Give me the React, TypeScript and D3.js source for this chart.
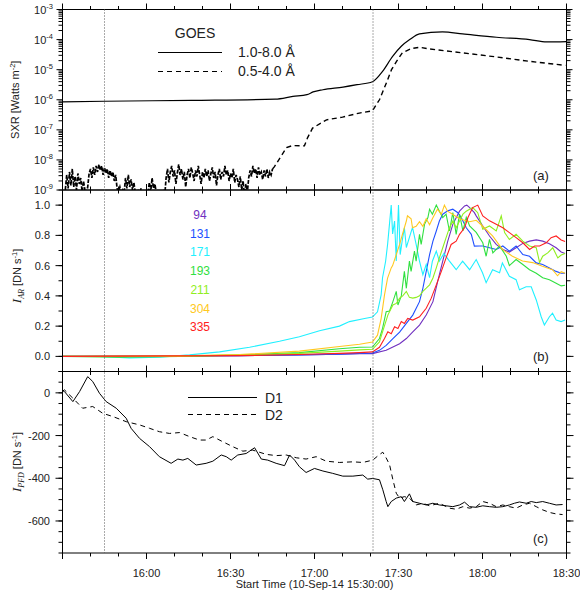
import React from 'react';
import * as d3 from 'd3';

const FONT = '"Liberation Sans", Arial, Helvetica, sans-serif';
const SERIF = '"Liberation Serif", "Times New Roman", serif';

// ---------- time axis (minutes after 15:30) ----------
const xTickMinutes = [30, 60, 90, 120, 150, 180];
const xTickLabels = ['16:00', '16:30', '17:00', '17:30', '18:00', '18:30'];
const xMinorMinutes = [0, 10, 20, 30, 40, 50, 60, 70, 80, 90, 100, 110, 120, 130, 140, 150, 160, 170, 180];
const markerMinutes = [15, 110.9];

// ---------- panel (a) GOES (log10 flux) ----------
const goesHiMin = [0, 15, 46, 76, 82.3, 87.3, 89.5, 93, 100.2, 105.2, 110.7, 114.3, 117.9, 121, 124, 127.5, 135.7, 142.9, 155, 166.8, 172.9, 180];
const goesHiExp = [-6.07, -6.05, -6.02, -5.98, -5.89, -5.83, -5.74, -5.667, -5.58, -5.5, -5.4, -5.057, -4.557, -4.223, -4.0, -3.81, -3.743, -3.81, -3.923, -4.0, -4.077, -4.067];

const goesLoNoiseStep = 0.5;
const goesLoNoiseExp = [
  -9.05, -9.1, -9.0,
  -8.5, -8.95, -8.4, -8.85, -8.3, -8.9, -8.55, -9.0, -8.45, -8.8, -8.6, -9.05, -8.7, -9.0,
  -9.1, -8.9,
  -8.45, -8.3, -8.6, -8.25, -8.5, -8.2, -8.4, -8.15, -8.35, -8.2, -8.5, -8.25, -8.45, -8.3, -8.6, -8.35, -8.55, -8.4, -8.7, -8.5,
  -8.95, -9.05, -8.9, -9.1, -9.0, -9.1,
  -8.6, -8.95, -8.5, -8.9, -8.65, -9.0, -8.75,
  -9.1, -9.2, -9.05, -9.2, -8.95, -9.15, -9.2, -9.1, -9.2, -9.15,
  -8.75, -9.05, -8.6, -8.95, -8.8, -9.1,
  -9.2, -9.1, -9.2, -9.15, -9.05, -9.2,
  -8.6, -8.3, -8.75, -8.4, -8.2, -8.55, -8.35, -8.8, -8.45, -8.15,
  -8.5, -8.3, -8.65, -8.4, -8.9, -8.5, -8.3, -8.6, -8.25, -8.45,
  -8.7, -8.35, -8.55, -8.2, -8.5, -8.8, -8.4, -8.6, -8.3, -8.55,
  -8.35, -8.7, -8.45, -8.25, -8.6, -8.4, -8.85, -8.5, -8.3, -8.65,
  -8.4, -8.55, -8.2, -8.5, -8.35, -8.7, -8.45, -8.6, -8.3, -8.75,
  -8.5, -8.65, -8.9, -8.55, -9.0, -8.7, -9.2, -8.8, -9.1, -8.6,
  -8.35, -8.55, -8.2, -8.45, -8.3, -8.6, -8.25, -8.5, -8.4, -8.65,
  -8.35, -8.55, -8.3, -8.6, -8.4, -8.5, -8.3,
];
const goesLoMin = [75, 75.7, 80, 82.1, 86.4, 87.5, 89.3, 94.3, 100, 106, 110.7, 113.2, 115.7, 117.5, 119.3, 121.4, 124.6, 127.5, 131, 142.9, 155, 166.8, 179.6];
const goesLoExp = [-8.3, -8.223, -7.59, -7.523, -7.533, -7.267, -6.943, -6.667, -6.577, -6.443, -6.367, -6.0, -5.433, -5.0, -4.723, -4.433, -4.3, -4.257, -4.31, -4.443, -4.577, -4.723, -4.857];

const yTicksA = [-9, -8, -7, -6, -5, -4, -3];

// ---------- panel (b) AIA normalized intensity ----------
const chNames = ['94', '131', '171', '193', '211', '304', '335'];
const chColors = ['#7030c0', '#2050ff', '#20f0ff', '#30e040', '#90ee20', '#ffc820', '#ff2020'];

const t94 = [0, 63.2, 84.6, 98.9, 106.1, 110.7, 115.6, 120.4, 122.8, 125.1, 127.5, 129.9, 132.3, 134, 135.8, 137.6, 139.4, 141.8, 143.6, 144.4, 145.4, 147.1, 147.75, 150.1, 152.5, 154.9, 157.25, 159.6, 162, 164.4, 166.8, 169.2, 171.5, 173.9, 176.3, 178.1, 179.5];
const v94 = [0, 0.005, 0.01, 0.015, 0.018, 0.018, 0.04, 0.084, 0.118, 0.162, 0.207, 0.273, 0.362, 0.496, 0.629, 0.762, 0.873, 0.96, 0.995, 1.0, 0.984, 0.95, 0.929, 0.862, 0.796, 0.74, 0.707, 0.69, 0.718, 0.747, 0.762, 0.77, 0.762, 0.745, 0.718, 0.69, 0.68];

const t131 = [0, 63.2, 84.6, 98.9, 106.1, 110.7, 113.2, 115.6, 118, 120.4, 122.8, 125.1, 127.5, 128.7, 129.9, 131.1, 132.3, 133.5, 134.6, 135.8, 137.6, 139.4, 141.2, 142.4, 144.2, 146, 147.1, 148.9, 150.1, 152.5, 154.9, 157.25, 159.6, 162, 164.4, 166.8, 169.2, 171.5, 173.9, 176.3, 178.1, 179.5];
const v131 = [0, 0.005, 0.01, 0.015, 0.02, 0.022, 0.04, 0.073, 0.118, 0.16, 0.218, 0.273, 0.362, 0.45, 0.562, 0.673, 0.762, 0.829, 0.895, 0.94, 0.962, 0.973, 0.95, 0.918, 0.85, 0.807, 0.729, 0.73, 0.73, 0.718, 0.707, 0.73, 0.696, 0.73, 0.673, 0.662, 0.618, 0.607, 0.584, 0.562, 0.55, 0.55];

const t171 = [0, 13.2, 23.9, 34.6, 45.4, 56.1, 66.8, 77.5, 84.6, 91.8, 98.9, 102.5, 107.9, 110.7, 112.5, 113.8, 114.3, 115.4, 116.1, 117.4, 117.9, 118.6, 119.2, 120, 120.6, 121.3, 122.1, 122.8, 123.9, 125, 126.3, 127.5, 128.7, 129.9, 131.1, 132.1, 133.5, 134.6, 136.2, 138.2, 140.6, 142.9, 145.4, 147.75, 150, 151.3, 153.6, 156.1, 157.1, 159.6, 162, 163.2, 165.6, 167.4, 169.2, 170.96, 172.1, 173.9, 175, 176.3, 178.1, 179.5];
const v171 = [0, 0, -0.01, -0.005, 0.01, 0.03, 0.06, 0.1, 0.13, 0.17, 0.2, 0.23, 0.25, 0.26, 0.295, 0.407, 0.52, 0.629, 0.74, 1.0, 0.81, 0.895, 0.63, 1.0, 0.673, 0.762, 0.85, 0.72, 0.787, 0.853, 0.74, 0.629, 0.54, 0.607, 0.52, 0.629, 0.696, 0.63, 0.68, 0.63, 0.573, 0.63, 0.573, 0.64, 0.553, 0.487, 0.573, 0.553, 0.618, 0.529, 0.507, 0.44, 0.46, 0.46, 0.373, 0.262, 0.207, 0.262, 0.285, 0.24, 0.23, 0.24];

const t193 = [0, 20.4, 41.8, 63.2, 84.6, 98.9, 106.1, 110.7, 113.2, 114.3, 115.6, 116.8, 118, 119.2, 119.8, 121, 122.1, 122.8, 123.9, 124.5, 125.7, 126.3, 127.5, 128.1, 129.3, 130.5, 131.1, 132.1, 133.5, 134.6, 135.8, 137, 138.2, 139.4, 140.6, 141.8, 143, 144.2, 145.4, 147.75, 150.1, 151.3, 152.5, 153.7, 156.1, 158.5, 159.6, 162, 164.4, 166.8, 169.2, 171.5, 173.9, 176.3, 178.1, 179.5];
const v193 = [0, -0.005, 0, 0.01, 0.025, 0.05, 0.06, 0.062, 0.118, 0.185, 0.296, 0.3, 0.362, 0.43, 0.34, 0.4, 0.562, 0.45, 0.63, 0.562, 0.696, 0.63, 0.807, 0.74, 0.873, 0.918, 0.973, 0.94, 1.0, 0.96, 0.918, 0.94, 0.829, 0.95, 0.807, 0.94, 0.83, 0.92, 0.862, 0.82, 0.751, 0.662, 0.773, 0.684, 0.73, 0.662, 0.6, 0.64, 0.607, 0.573, 0.55, 0.52, 0.506, 0.484, 0.466, 0.47];

const t211 = [0, 41.8, 63.2, 84.6, 98.9, 106.1, 110.7, 113.2, 114.3, 116.2, 118, 119.2, 120.4, 121.5, 122.8, 123.9, 125.1, 126.3, 127.5, 128.7, 129.9, 131.1, 132.3, 133.5, 134.6, 135.8, 137, 138.2, 139.4, 140.6, 141.8, 143, 144.2, 146.5, 148.3, 150.1, 152.5, 154.9, 156.7, 157.9, 159.6, 162, 164.4, 166.8, 169.2, 170.4, 171.5, 173.3, 175.1, 176.9, 178.1, 179.5];
const v211 = [0, 0, 0.008, 0.02, 0.035, 0.043, 0.047, 0.095, 0.162, 0.273, 0.34, 0.35, 0.385, 0.4, 0.429, 0.39, 0.385, 0.39, 0.4, 0.43, 0.451, 0.473, 0.518, 0.585, 0.651, 0.718, 0.785, 0.851, 0.895, 0.85, 0.895, 0.94, 0.96, 0.984, 0.95, 0.84, 0.862, 0.83, 0.929, 0.818, 0.773, 0.807, 0.762, 0.73, 0.718, 0.62, 0.662, 0.684, 0.718, 0.651, 0.67, 0.68];

const t304 = [0, 41.8, 63.2, 84.6, 98.9, 106.1, 110.7, 112.5, 113.8, 115, 116.1, 117.4, 117.9, 119.2, 120.4, 121.4, 122.8, 123.2, 124.5, 125, 126.3, 127.5, 128.7, 129.9, 131.1, 132.1, 133.9, 135.3, 136.4, 137.5, 139.3, 141.8, 145.4, 147.75, 150, 153.6, 157.1, 160.7, 164.3, 167.9, 171.4, 175, 176.8, 178.1, 179.5];
const v304 = [0, 0.003, 0.012, 0.035, 0.065, 0.08, 0.095, 0.14, 0.25, 0.407, 0.518, 0.585, 0.6, 0.673, 0.74, 0.807, 0.895, 0.93, 0.91, 0.85, 0.86, 0.89, 0.86, 0.91, 0.87, 0.91, 0.973, 0.94, 1.0, 0.96, 0.94, 0.91, 0.89, 0.9, 0.862, 0.796, 0.707, 0.662, 0.63, 0.62, 0.596, 0.573, 0.533, 0.56, 0.55];

const t335 = [0, 63.2, 84.6, 98.9, 106.1, 110.7, 113.2, 115, 116.2, 117.4, 118.6, 119.8, 121, 122.1, 123.3, 125.1, 127.5, 129.9, 131.7, 133.5, 135.3, 137, 138.8, 140.6, 141.8, 143.6, 144.8, 146.5, 148.3, 150.1, 152.5, 154.9, 157.25, 159.6, 162, 164.4, 166.8, 168.6, 170.4, 172.75, 174.5, 176.3, 178.1, 179.5];
const v335 = [0, 0.005, 0.012, 0.02, 0.025, 0.03, 0.06, 0.118, 0.162, 0.15, 0.196, 0.185, 0.23, 0.218, 0.251, 0.24, 0.262, 0.318, 0.385, 0.473, 0.562, 0.651, 0.74, 0.762, 0.807, 0.85, 0.918, 0.984, 1.0, 0.929, 0.896, 0.873, 0.85, 0.818, 0.785, 0.751, 0.707, 0.73, 0.73, 0.751, 0.785, 0.796, 0.77, 0.76];

const chTimes = [t94, t131, t171, t193, t211, t304, t335];
const chValues = [v94, v131, v171, v193, v211, v304, v335];

const yTicksB = [0, 0.2, 0.4, 0.6, 0.8, 1.0];
const yMinorB = [-0.1, 0, 0.1, 0.2, 0.3, 0.4, 0.5, 0.6, 0.7, 0.8, 0.9, 1.0, 1.1];

// ---------- panel (c) PFD intensity ----------
const tD1 = [0, 0.7, 3.7, 6.1, 9.0, 10.8, 13.2, 15.6, 19.2, 22.75, 24.5, 27.5, 31.1, 34.6, 38.8, 41.2, 43, 44.75, 47.75, 51.3, 53.7, 56.7, 58.5, 60.25, 62.6, 65.6, 68.6, 71, 73.3, 76.3, 79.3, 81.1, 82.9, 84.6, 87, 90, 93, 96.5, 100.1, 103.7, 107.25, 109, 110.8, 113.2, 114.4, 115.6, 116.2, 117.4, 119.2, 121, 122.1, 123.9, 125.1, 127.5, 129.9, 132.25, 134.6, 137, 139.4, 141.8, 143.6, 145.4, 147.75, 150.1, 152.5, 154.9, 157.25, 159.6, 161.4, 163.2, 165.6, 167.4, 169.2, 171.5, 173.9, 176.3, 178.6];
const vD1 = [10, 6, -41, 6, 76, 53, -2, -41, -72, -119, -166, -213, -252, -299, -330, -310, -315, -307, -338, -330, -320, -291, -299, -315, -291, -284, -257, -310, -315, -330, -341, -291, -315, -346, -373, -354, -366, -377, -390, -390, -385, -404, -401, -407, -454, -509, -533, -509, -493, -486, -509, -473, -509, -517, -525, -517, -525, -529, -533, -525, -512, -533, -536, -529, -533, -536, -533, -525, -517, -511, -517, -509, -514, -509, -517, -525, -523];

const tD2 = [0, 0.7, 3.7, 7.2, 10.8, 14.4, 18, 22.75, 27.5, 31.1, 34.6, 38.2, 41.8, 45.4, 48.9, 51.3, 53.7, 57.25, 60.8, 64.4, 67.9, 72.75, 76.3, 79.9, 83.5, 87, 90.6, 94.2, 98.9, 103.7, 107.25, 110.8, 113.2, 114.4, 115.6, 116.8, 118, 119.2, 120.4, 122.1, 123.9, 126.3, 128.7, 131.1, 134.6, 138.2, 140.6, 143, 145.4, 147.75, 150.1, 152.5, 154.9, 157.25, 159.6, 162, 164.4, 166.8, 169.2, 171.5, 173.9, 176.3, 178.6];
const vD2 = [8, 14, -25, -72, -64, -96, -111, -135, -150, -166, -182, -190, -186, -205, -221, -221, -205, -229, -252, -273, -268, -288, -294, -291, -304, -310, -299, -320, -326, -323, -326, -315, -289, -278, -305, -336, -407, -470, -493, -486, -493, -525, -517, -529, -517, -540, -545, -533, -540, -533, -509, -517, -533, -525, -533, -540, -525, -517, -533, -548, -560, -567, -570];

const yTicksC = [0, -200, -400, -600];
const yMinorC = [-750, -700, -650, -600, -550, -500, -450, -400, -350, -300, -250, -200, -150, -100, -50, 0, 50, 100];

// ---------- layout ----------
const X0 = 62.5, X1 = 566.5;
const A = { top: 9.5, bottom: 190 };
const B = { top: 190, bottom: 371.5 };
const C = { top: 371.5, bottom: 553 };

const x = d3.scaleLinear().domain([0, 180]).range([X0, X1]);
const yA = d3.scaleLog().domain([1e-9, 1e-3]).range([A.bottom, A.top]);
const yB = d3.scaleLinear().domain([-0.1, 1.1]).range([B.bottom, B.top]);
const yC = d3.scaleLinear().domain([-750, 100]).range([C.bottom, C.top]);

function zip(ts: number[], vs: number[]): [number, number][] {
  return ts.map((t, i) => [t, vs[i]]);
}

function PanelFrame({ top, bottom }: { top: number; bottom: number }) {
  const els: any[] = [];
  xMinorMinutes.forEach((m) => {
    const major = m % 30 === 0;
    const L = major ? 6 : 3.5;
    const xx = x(m);
    els.push(<line key={'b' + m} x1={xx} x2={xx} y1={bottom} y2={bottom + L} />);
    els.push(<line key={'t' + m} x1={xx} x2={xx} y1={top} y2={top - L} />);
  });
  return (
    <g stroke="#000" strokeWidth={1}>
      {els}
      <rect x={X0} y={top} width={X1 - X0} height={bottom - top} fill="none" />
    </g>
  );
}

function YTicks({ vals, scale, len }: { vals: number[]; scale: (v: number) => number; len: number }) {
  return (
    <g stroke="#000" strokeWidth={1}>
      {vals.map((v, i) => {
        const yy = scale(v);
        return (
          <g key={i}>
            <line x1={X0} x2={X0 - len} y1={yy} y2={yy} />
            <line x1={X1} x2={X1 + len} y1={yy} y2={yy} />
          </g>
        );
      })}
    </g>
  );
}

export default function App() {
  const lineA = d3.line<[number, number]>().x((d) => x(d[0])).y((d) => yA(Math.pow(10, d[1])));
  const lineAHi = d3.line<[number, number]>().x((d) => x(d[0])).y((d) => yA(Math.pow(10, d[1]))).curve(d3.curveMonotoneX);
  const lineB = d3.line<[number, number]>().x((d) => x(d[0])).y((d) => yB(d[1]));
  const lineC = d3.line<[number, number]>().x((d) => x(d[0])).y((d) => yC(d[1]));

  const noisePts: [number, number][] = goesLoNoiseExp.map((e, i) => [i * goesLoNoiseStep, e]);
  const loPts = zip(goesLoMin, goesLoExp);

  const minorA: number[] = [];
  for (let d = -9; d < -3; d++) for (let k = 2; k <= 9; k++) minorA.push(k * Math.pow(10, d));
  const majorA = yTicksA.map((e) => Math.pow(10, e));

  return (
    <svg width={580} height={599} style={{ position: 'absolute', left: 0, top: 0, background: '#fff' }} fontFamily={FONT}>
      <defs>
        <clipPath id="clipA"><rect x={X0} y={A.top} width={X1 - X0} height={A.bottom - A.top} /></clipPath>
        <clipPath id="clipB"><rect x={X0} y={B.top} width={X1 - X0} height={B.bottom - B.top} /></clipPath>
        <clipPath id="clipC"><rect x={X0} y={C.top} width={X1 - X0} height={C.bottom - C.top} /></clipPath>
      </defs>
      <rect x={0} y={0} width={580} height={599} fill="#fff" />

      {/* Panel A */}
      <g clipPath="url(#clipA)" fill="none" stroke="#000">
        <path d={lineAHi(zip(goesHiMin, goesHiExp)) || ''} strokeWidth={1.2} />
        <path d={lineA(noisePts) || ''} strokeWidth={1.7} strokeDasharray="4,1.5" />
        <path d={lineA(loPts) || ''} strokeWidth={1.4} strokeDasharray="5,3.5" />
      </g>
      <PanelFrame top={A.top} bottom={A.bottom} />
      <YTicks vals={majorA} scale={yA} len={6} />
      <YTicks vals={minorA} scale={yA} len={4} />
      {yTicksA.map((e) => (
        <text key={e} x={53} y={yA(Math.pow(10, e)) + 4} textAnchor="end" fontSize={11} fill="#222">
          10<tspan dy={-5} fontSize={7.5}>{String(e)}</tspan>
        </text>
      ))}
      <text transform={`translate(19,${(A.top + A.bottom) / 2}) rotate(-90)`} textAnchor="middle" fontSize={11} fill="#222">
        SXR [Watts m<tspan dy={-4} fontSize={7.5}>-2</tspan><tspan dy={4}>]</tspan>
      </text>
      <text x={195} y={38} textAnchor="middle" fontSize={14} fill="#222">GOES</text>
      <line x1={158} x2={222} y1={52.5} y2={52.5} stroke="#000" strokeWidth={1.2} />
      <text x={238} y={57} fontSize={14} fill="#222">1.0-8.0 Å</text>
      <line x1={158} x2={222} y1={71.5} y2={71.5} stroke="#000" strokeWidth={1.2} strokeDasharray="5,4" />
      <text x={238} y={76} fontSize={14} fill="#222">0.5-4.0 Å</text>
      <text x={533} y={180} fontSize={13} fill="#222">(a)</text>

      {/* Panel B */}
      <g clipPath="url(#clipB)" fill="none">
        {chNames.map((n, i) => (
          <path key={n} d={lineB(zip(chTimes[i], chValues[i])) || ''} stroke={chColors[i]} strokeWidth={1.1} />
        ))}
      </g>
      <PanelFrame top={B.top} bottom={B.bottom} />
      <YTicks vals={yTicksB} scale={yB} len={7} />
      <YTicks vals={yMinorB} scale={yB} len={4} />
      {yTicksB.map((v) => (
        <text key={v} x={50} y={yB(v) + 4} textAnchor="end" fontSize={11} fill="#222">{v.toFixed(1)}</text>
      ))}
      <text transform={`translate(21,276) rotate(-90)`} textAnchor="middle" fontSize={11} fill="#222">
        <tspan fontFamily={SERIF} fontStyle="italic" fontSize={13}>I</tspan>
        <tspan fontFamily={SERIF} fontStyle="italic" fontSize={8} dy={2.5}>AR</tspan>
        <tspan dy={-2.5}> [DN s</tspan>
        <tspan dy={-4} fontSize={7.5}>-1</tspan>
        <tspan dy={4}>]</tspan>
      </text>
      {chNames.map((n, i) => (
        <text key={n} x={200} y={219 + i * 18.7} textAnchor="middle" fontSize={12} fill={chColors[i]}>{n}</text>
      ))}
      <text x={533} y={361} fontSize={13} fill="#222">(b)</text>

      {/* Panel C */}
      <g clipPath="url(#clipC)" fill="none" stroke="#000">
        <path d={lineC(zip(tD1, vD1)) || ''} strokeWidth={1} />
        <path d={lineC(zip(tD2, vD2)) || ''} strokeWidth={1} strokeDasharray="5,4" />
      </g>
      <PanelFrame top={C.top} bottom={C.bottom} />
      <YTicks vals={yTicksC} scale={yC} len={7} />
      <YTicks vals={yMinorC} scale={yC} len={4} />
      {yTicksC.map((v) => (
        <text key={v} x={50} y={yC(v) + 4} textAnchor="end" fontSize={11} fill="#222">{String(v)}</text>
      ))}
      <text transform={`translate(21,462) rotate(-90)`} textAnchor="middle" fontSize={11} fill="#222">
        <tspan fontFamily={SERIF} fontStyle="italic" fontSize={13}>I</tspan>
        <tspan fontFamily={SERIF} fontStyle="italic" fontSize={8} dy={2.5}>PFD</tspan>
        <tspan dy={-2.5}> [DN s</tspan>
        <tspan dy={-4} fontSize={7.5}>-1</tspan>
        <tspan dy={4}>]</tspan>
      </text>
      <line x1={188} x2={257} y1={397.5} y2={397.5} stroke="#000" strokeWidth={1} />
      <text x={265} y={402.5} fontSize={14} fill="#222">D1</text>
      <line x1={188} x2={257} y1={414.5} y2={414.5} stroke="#000" strokeWidth={1} strokeDasharray="5,4" />
      <text x={265} y={419.5} fontSize={14} fill="#222">D2</text>
      <text x={533} y={543} fontSize={13} fill="#222">(c)</text>

      {/* vertical markers */}
      {markerMinutes.map((m) => (
        <line key={m} x1={x(m)} x2={x(m)} y1={A.top} y2={C.bottom} stroke="#555" strokeWidth={1} strokeDasharray="1,2" />
      ))}

      {/* x axis labels */}
      {xTickMinutes.map((m, i) => (
        <text key={m} x={x(m)} y={577} textAnchor="middle" fontSize={11} fill="#222">{xTickLabels[i]}</text>
      ))}
      <text x={(X0 + X1) / 2} y={588} textAnchor="middle" fontSize={11} fill="#222">Start Time (10-Sep-14 15:30:00)</text>
    </svg>
  );
}
